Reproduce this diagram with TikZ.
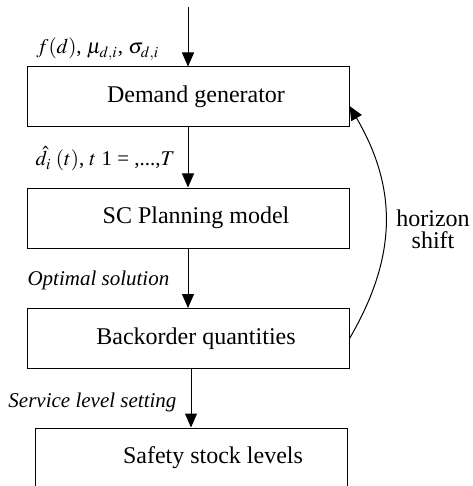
\documentclass[tikz,border=0pt]{standalone}
\usepackage{mathptmx}
\usepackage[no-math]{fontspec}
\setmainfont{Liberation Serif}
\usetikzlibrary{arrows.meta}

\begin{document}
\begin{tikzpicture}[x=0.5pt, y=-0.5pt, line width=0.5pt,
    block/.style={rectangle, draw, minimum width=161pt, minimum height=30pt, font=\fontsize{12}{14}\selectfont, execute at begin node={\hspace*{8pt}}},
    lbl/.style={anchor=base west, inner sep=0pt, font=\fontsize{10.5}{12}\selectfont},
    flow/.style={-{Triangle[length=7pt,width=6pt]}}]
    \useasboundingbox (0,0) rectangle (472,486);

    \node at (188, 97) [block] (dg) {Demand generator};
    \node at (188, 218) [block] (pm) {SC Planning model};
    \node at (188, 338.5) [block] (bo) {Backorder quantities};
    \node at (191, 458) [block, minimum width=156pt, execute at begin node={\hspace*{14pt}}] (sl) {Safety stock levels};
    \coordinate (src) at (188, 7);

    \node at (36, 54) [lbl] (par) {$f(d)$, $\mu_{d,i}$, $\sigma_{d,i}$};
    \node at (35, 166) [lbl] (dhat) {$\hat{d}_{i}\;(t)$, $t$ 1 = ,...,$T$};
    \node at (27, 285) [lbl, font=\fontsize{10.5}{12}\selectfont\itshape] (opt) {Optimal solution};
    \node at (8, 407) [lbl, font=\fontsize{10.5}{12}\selectfont\itshape] (svc) {Service level setting};
    \node at (433, 229) [align=center, inner sep=0pt, font=\fontsize{12}{11}\selectfont] (hs) {horizon\\shift};

    \draw [flow] (src) -- (dg.north);
    \draw [flow] (dg.south) -- (pm.north);
    \draw [flow] (pm.south) -- (bo.north);
    \draw [flow] (sl.north |- bo.south) -- (sl.north);
    \draw [flow] (bo.east) .. controls +(48,-82) and +(48,82) .. ([yshift=-4.5pt]dg.east);

\end{tikzpicture}
\end{document}
